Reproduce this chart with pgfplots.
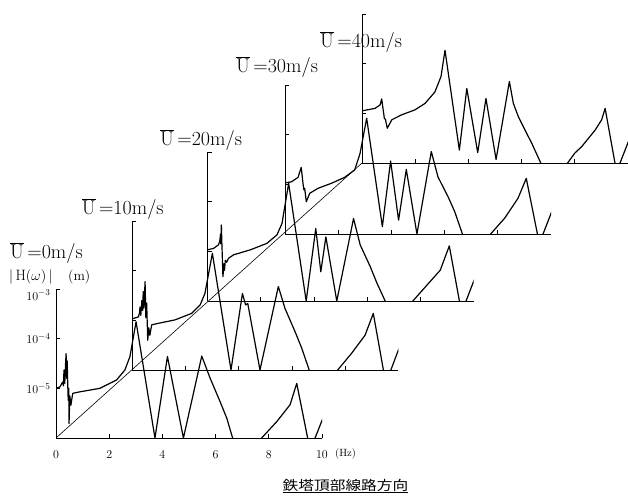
\documentclass[border=0pt]{standalone}
\usepackage{pgfplots}
\pgfplotsset{compat=1.18}
\usepackage{graphicx}
\usepackage{fontspec}
\newfontfamily\cjk{Noto Sans CJK JP}

\pgfplotstableread{
f y
0 1.122e-5
0.49 1.259e-5
0.68 1.479e-5
0.74 1.950e-5
0.84 7.94e-6
0.88 7.59e-6
0.95 5.01e-6
1.12 7.41e-6
1.49 9.33e-6
1.99 1.175e-5
2.37 1.585e-5
2.74 2.69e-5
2.97 5.50e-5
3.12 1.862e-4
3.66 1.82e-6
3.94 3.162e-5
4.35 1.62e-6
4.66 1.995e-5
5.04 1.175e-6
5.54 4.37e-5
5.69 1.585e-5
5.88 8.51e-6
6.13 4.57e-6
6.38 2.51e-6
6.72 1e-6
7.2 3.16e-7
7.73 1e-6
8.00 1.585e-6
8.26 2.14e-6
8.76 4.57e-6
9.01 7.41e-6
9.14 1.259e-5
9.51 1e-6
9.60 5.0e-7
9.70 1e-6
10.05 3.02e-6
}\dataD

\pgfplotstableread{
f y
0 1.072e-5
0.24 1.122e-5
0.49 1.380e-5
0.61 2.19e-5
0.68 1.0e-5
0.71 7.76e-6
0.74 8.32e-6
0.80 4.47e-6
0.93 6.61e-6
1.24 8.32e-6
1.74 1.047e-5
2.24 1.380e-5
2.62 1.950e-5
2.82 4.17e-5
3.07 2.14e-4
3.66 1.413e-6
3.97 2.95e-5
4.27 1.905e-6
4.56 1.995e-5
4.96 1e-6
5.50 4.57e-5
5.75 1.413e-5
6.13 5.62e-6
6.38 2.82e-6
6.67 1e-6
7.2 3.16e-7
7.73 1e-6
8.26 2.09e-6
8.76 5.25e-6
9.07 1.318e-5
9.49 1e-6
9.60 5.0e-7
9.70 1e-6
10.05 3.02e-6
}\dataC

\pgfplotstableread{
f y
0 1.072e-5
0.23 1.148e-5
0.41 1.349e-5
0.46 1.585e-5
0.49 2.24e-5
0.50 1.413e-5
0.52 3.39e-5
0.55 1.0e-5
0.58 3.09e-6
0.62 5.62e-6
0.64 4.17e-6
0.67 6.61e-6
0.72 6.03e-6
0.79 7.24e-6
0.98 8.51e-6
1.61 1.072e-5
2.23 1.445e-5
2.61 2.14e-5
2.80 3.63e-5
3.05 2.34e-4
3.71 1e-6
4.07 2.88e-5
4.26 3.89e-6
4.45 1.95e-5
4.86 1e-6
5.49 4.57e-5
5.74 1.349e-5
6.12 4.90e-6
6.37 2.29e-6
6.68 1e-6
7.2 3.16e-7
7.72 1e-6
8.25 2.09e-6
8.75 4.17e-6
9.09 1.288e-5
9.47 1e-6
9.60 5.0e-7
9.72 1e-6
10.05 2.88e-6
}\dataB

\pgfplotstableread{
f y
0 1.072e-5
0.23 1.175e-5
0.27 1.413e-5
0.29 1.862e-5
0.32 1.259e-5
0.36 2.51e-5
0.39 1.585e-5
0.41 3.80e-5
0.44 1.778e-5
0.48 6.03e-5
0.51 1.122e-5
0.54 2.24e-5
0.58 3.98e-6
0.62 7.08e-6
0.66 5.01e-6
0.73 8.13e-6
0.98 8.71e-6
1.61 1.023e-5
2.23 1.380e-5
2.55 2.04e-5
2.73 3.47e-5
3.01 2.24e-4
3.71 1e-6
4.14 3.47e-5
4.26 2.04e-5
4.34 2.19e-5
4.80 1e-6
5.49 4.79e-5
5.74 1.738e-5
6.12 5.89e-6
6.37 2.75e-6
6.65 1e-6
7.2 3.16e-7
7.72 1e-6
8.25 2.19e-6
8.75 5.01e-6
9.06 1.380e-5
9.44 1e-6
9.58 5.0e-7
9.72 1e-6
10.05 2.95e-6
}\dataA

\pgfplotstableread{
f y
0 1e-5
0.15 1.072e-5
0.25 1.349e-5
0.28 1.122e-5
0.30 2.34e-5
0.33 1.259e-5
0.36 3.16e-5
0.38 5.01e-5
0.40 1.585e-5
0.42 3.55e-5
0.45 7.94e-6
0.46 5.75e-6
0.48 1e-5
0.49 1.95e-6
0.52 7.08e-6
0.56 4.57e-6
0.60 6.31e-6
0.63 7.94e-6
0.90 8.51e-6
1.65 1e-5
2.28 1.479e-5
2.59 2.34e-5
2.78 4.37e-5
3.01 2.19e-4
3.72 1e-6
4.19 4.37e-5
4.79 1e-6
5.48 4.47e-5
5.79 1.622e-5
6.17 5.37e-6
6.42 2.51e-6
6.64 1e-6
7.2 3.16e-7
7.73 1e-6
8.30 2.14e-6
8.80 4.68e-6
9.05 1.259e-5
9.46 1e-6
9.60 5.0e-7
9.74 1e-6
10.05 2.63e-6
}\dataO

\pgfplotsset{
  every axis/.append style={
    scale only axis, width=266pt, height=149pt,
    xmin=0, xmax=10, ymin=1e-6, ymax=1e-3,
    axis x line=bottom, axis y line=left,
    axis line style={-, line width=0.9pt, black},
    minor tick num=0, yminorticks=false, xminorticks=false,
    major tick length=4pt,
    tick style={black, line width=0.7pt},
    tick align=inside,
  },
}

\begin{document}
\begin{tikzpicture}
\useasboundingbox (0,0) rectangle (628pt,-500pt);

\begin{semilogyaxis}[name=p4, at={(362pt,-163pt)}, anchor=south west,
  ytick={1e-5,1e-4,1e-3},
  xtick={2,4,6,8}, xticklabels={}, yticklabels={}]
\addplot[black, line width=1.2pt, line join=round, mark=none] table[x=f,y=y] {\dataD};
\end{semilogyaxis}

\begin{semilogyaxis}[name=p3, at={(285pt,-234pt)}, anchor=south west,
  ytick={1e-5,1e-4,1e-3},
  xtick={2,4,6,8}, xticklabels={}, yticklabels={}]
\addplot[black, line width=1.2pt, line join=round, mark=none] table[x=f,y=y] {\dataC};
\end{semilogyaxis}

\begin{semilogyaxis}[name=p2, at={(207.5pt,-301pt)}, anchor=south west,
  ytick={1e-5,1e-4,1e-3},
  xtick={2,4,6,8}, xticklabels={}, yticklabels={}]
\addplot[black, line width=1.2pt, line join=round, mark=none] table[x=f,y=y] {\dataB};
\end{semilogyaxis}

\begin{semilogyaxis}[name=p1, at={(132.3pt,-370pt)}, anchor=south west,
  ytick={1e-5,1e-4,1e-3},
  xtick={2,4,6,8}, xticklabels={}, yticklabels={}]
\addplot[black, line width=1.2pt, line join=round, mark=none] table[x=f,y=y] {\dataA};
\end{semilogyaxis}

\begin{semilogyaxis}[name=p0, at={(56pt,-438pt)}, anchor=south west,
  xtick={0,2,4,6,8,10},
  xticklabel style={font=\fontsize{12}{14}\selectfont, yshift=-9pt},
  ytick={1e-5,1e-4},
  extra y ticks={1e-3},
  extra y tick style={yticklabel style={yshift=-6pt}},
  yticklabel style={font=\fontsize{13}{15}\selectfont, xshift=-2pt}]
\addplot[black, line width=1.2pt, line join=round, mark=none] table[x=f,y=y] {\dataO};
\end{semilogyaxis}

\draw[line width=0.6pt] (p0.south west) -- (p4.south west);

\begin{scope}[every node/.style={anchor=base west, inner sep=0pt, font=\fontsize{20}{24}\selectfont}]
\node at (10pt,-258pt) {$\overline{\mathrm{U}}$\,=0m/s};
\node at (81.7pt,-214pt) {$\overline{\mathrm{U}}$\,=10m/s};
\node at (160pt,-145.5pt) {$\overline{\mathrm{U}}$\,=20m/s};
\node at (236pt,-72.7pt) {$\overline{\mathrm{U}}$\,=30m/s};
\node at (320pt,-47.7pt) {$\overline{\mathrm{U}}$\,=40m/s};
\end{scope}

\node[anchor=base west, inner sep=0pt, font=\fontsize{15}{17}\selectfont] at (9pt,-280pt) {$|\,\mathrm{H}(\omega)\,|$};
\node[anchor=base west, inner sep=0pt, font=\fontsize{14}{16}\selectfont] at (68pt,-280pt) {(m)};
\node[anchor=base west, inner sep=0pt, font=\fontsize{10.5}{12}\selectfont] at (335pt,-456pt) {(Hz)};

\node[anchor=base, inner sep=0pt] at (345.5pt,-490pt) {\scalebox{1.18}[1]{\cjk\fontsize{13.3}{15}\selectfont\underline{鉄塔頂部線路方向}}};
\end{tikzpicture}
\end{document}
